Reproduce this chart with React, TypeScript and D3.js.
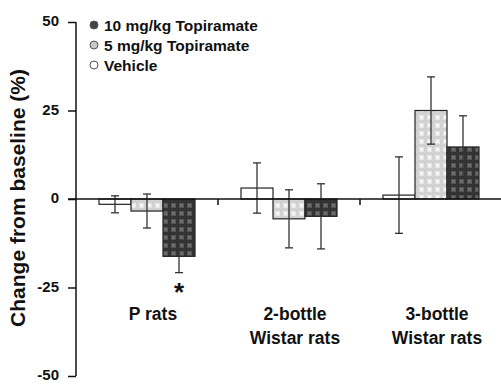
import React, { useEffect, useRef } from "react";
import * as d3 from "d3";

const groups = ["P rats", "2-bottle|Wistar rats", "3-bottle|Wistar rats"];
const series = ["Vehicle", "5 mg/kg Topiramate", "10 mg/kg Topiramate"];
const vehicle = [-1.5, 3.1, 1.1];
const vehicleErr = [2.4, 7.1, 10.8];
const mg5 = [-3.4, -5.6, 25.0];
const mg5Err = [4.8, 8.2, 9.5];
const mg10 = [-16.2, -4.9, 14.7];
const mg10Err = [4.6, 9.2, 8.8];
const yTicks = [50, 25, 0, -25, -50];
const legendItems = ["10 mg/kg Topiramate", "5 mg/kg Topiramate", "Vehicle"];

const App = () => {
  const svgRef = useRef<SVGSVGElement>(null);

  useEffect(() => {
    const width = 501;
    const height = 386;
    const svg = d3.select(svgRef.current).attr("width", width).attr("height", height);
    svg.selectAll("*").remove();

    const font = "Liberation Sans, Arial, sans-serif";
    const y = d3.scaleLinear().domain([-50, 50]).range([376, 22]);
    const x0 = d3.scaleBand().domain(groups).range([76, 502]);
    const x1 = d3.scaleBand().domain(series).range([23, 119]);

    const defs = svg.append("defs");
    const mkPattern = (id, base, line, light) => {
      const p = defs
        .append("pattern")
        .attr("id", id)
        .attr("width", 8)
        .attr("height", 8)
        .attr("patternUnits", "userSpaceOnUse");
      p.append("rect").attr("width", 8).attr("height", 8).attr("fill", base);
      p.append("rect").attr("x", 0).attr("y", 0).attr("width", 8).attr("height", 3).attr("fill", line);
      p.append("rect").attr("x", 0).attr("y", 0).attr("width", 3).attr("height", 8).attr("fill", line);
      p.append("rect").attr("x", 4).attr("y", 4).attr("width", 3).attr("height", 3).attr("fill", light);
    };
    mkPattern("dark", "#555", "#333", "#6a6a6a");
    mkPattern("light", "#e6e6e6", "#d2d2d2", "#f4f4f4");

    const fills = { Vehicle: "#fff", "5 mg/kg Topiramate": "url(#light)", "10 mg/kg Topiramate": "url(#dark)" };
    const vals = { Vehicle: vehicle, "5 mg/kg Topiramate": mg5, "10 mg/kg Topiramate": mg10 };
    const errs = { Vehicle: vehicleErr, "5 mg/kg Topiramate": mg5Err, "10 mg/kg Topiramate": mg10Err };

    // bars
    groups.forEach((g, gi) => {
      series.forEach((s) => {
        const v = vals[s][gi];
        const bx = x0(g) + x1(s);
        svg
          .append("rect")
          .attr("x", bx)
          .attr("y", Math.min(y(v), y(0)))
          .attr("width", x1.bandwidth())
          .attr("height", Math.abs(y(v) - y(0)))
          .attr("fill", fills[s])
          .attr("stroke", "#222")
          .attr("stroke-width", 1.2);
      });
    });

    // error bars
    groups.forEach((g, gi) => {
      series.forEach((s) => {
        const v = vals[s][gi];
        const e = errs[s][gi];
        const cx = x0(g) + x1(s) + x1.bandwidth() / 2;
        const eb = svg.append("g").attr("stroke", "#333").attr("stroke-width", 1.3);
        eb.append("line").attr("x1", cx).attr("x2", cx).attr("y1", y(v + e)).attr("y2", y(v - e));
        [v + e, v - e].forEach((t) =>
          eb.append("line").attr("x1", cx - 4).attr("x2", cx + 4).attr("y1", y(t)).attr("y2", y(t))
        );
      });
    });

    // zero line
    svg
      .append("line")
      .attr("x1", 68)
      .attr("x2", width)
      .attr("y1", y(0))
      .attr("y2", y(0))
      .attr("stroke", "#111")
      .attr("stroke-width", 1.6);
    groups.forEach((g) => {
      const tx = x0(g) + x0.bandwidth();
      svg
        .append("line")
        .attr("x1", tx)
        .attr("x2", tx)
        .attr("y1", y(0))
        .attr("y2", y(0) + 6)
        .attr("stroke", "#111")
        .attr("stroke-width", 1.5);
    });

    // y axis
    const yAxis = svg
      .append("g")
      .attr("transform", "translate(76,0)")
      .call(d3.axisLeft(y).tickValues(yTicks).tickSize(8).tickFormat((d) => String(d)));
    yAxis.select(".domain").attr("stroke", "#111").attr("stroke-width", 1.5).attr("d", `M-0,${y(50)}V${y(-50)}`);
    yAxis.selectAll(".tick line").attr("stroke", "#111").attr("stroke-width", 1.5);
    yAxis
      .selectAll(".tick text")
      .attr("font-family", font)
      .attr("font-weight", "bold")
      .attr("font-size", 15)
      .attr("fill", "#111")
      .attr("x", -17)
      .attr("dy", "0.25em");

    svg
      .append("text")
      .attr("transform", `translate(25,198) rotate(-90)`)
      .attr("text-anchor", "middle")
      .attr("font-family", font)
      .attr("font-weight", "bold")
      .attr("font-size", 21)
      .attr("fill", "#111")
      .text("Change from baseline (%)");

    // x labels
    groups.forEach((g) => {
      const lines = g.split("|");
      const t = svg
        .append("text")
        .attr("text-anchor", "middle")
        .attr("font-family", font)
        .attr("font-weight", "bold")
        .attr("font-size", 17.5)
        .attr("fill", "#111");
      lines.forEach((l, i) =>
        t
          .append("tspan")
          .attr("x", x0(g) + x0.bandwidth() / 2 + 6)
          .attr("y", 320 + i * 24)
          .text(l)
      );
    });

    // significance asterisk
    svg
      .append("text")
      .attr("x", x0(groups[0]) + x1(series[2]) + x1.bandwidth() / 2)
      .attr("y", y(mg10[0] - mg10Err[0]) + 28)
      .attr("text-anchor", "middle")
      .attr("font-family", font)
      .attr("font-weight", "bold")
      .attr("font-size", 26)
      .attr("fill", "#111")
      .text("*");

    // legend
    const legFill = ["#444", "#c8c8c8", "#fff"];
    const legend = svg.append("g");
    legendItems.forEach((l, i) => {
      const ly = 25 + i * 20;
      legend
        .append("circle")
        .attr("cx", 94)
        .attr("cy", ly)
        .attr("r", 4)
        .attr("fill", legFill[i])
        .attr("stroke", "#555")
        .attr("stroke-width", 1);
      legend
        .append("text")
        .attr("x", 104)
        .attr("y", ly + 5.5)
        .attr("font-family", font)
        .attr("font-weight", "bold")
        .attr("font-size", 15.5)
        .attr("fill", "#111")
        .text(l);
    });
  }, []);

  return (
    <div style={{ position: "absolute", left: 0, top: 0 }}>
      <svg ref={svgRef} style={{ display: "block" }}></svg>
    </div>
  );
};

export default App;
